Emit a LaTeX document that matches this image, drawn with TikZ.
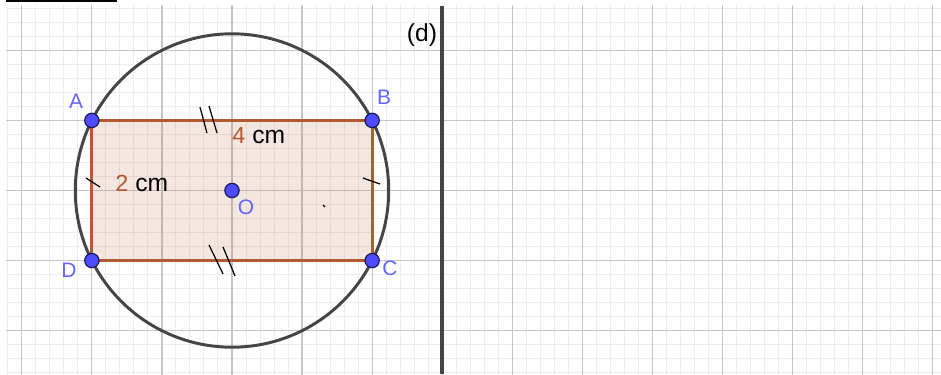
\documentclass[tikz,border=0pt]{standalone}
\usepackage{fontspec}
\setmainfont{Liberation Sans}
\usepackage{xcolor}
\usepackage{tikz}
\usetikzlibrary{calc}
\definecolor{ggbmajor}{HTML}{C6C6C6}
\definecolor{ggbminor}{HTML}{EDEDED}
\definecolor{ggbbrown}{HTML}{B45A30}
\definecolor{ggbblue}{HTML}{4D4DFF}
\definecolor{ggblabel}{HTML}{6464FF}
\definecolor{ggbdark}{HTML}{454545}

\begin{document}
\begin{tikzpicture}[font=\fontsize{8.5}{10}\selectfont,
    ptdot/.style={circle,fill=ggbblue,draw=ggbblue!35!black,line width=0.5pt,inner sep=0pt,minimum size=5.8pt},
    ptlabel/.style={text=ggblabel,inner sep=0pt},
    marktick/.style={black,line width=0.5pt},
    lenlabel/.style={anchor=west,inner sep=0pt,font=\fontsize{10}{12}\selectfont}]
        \useasboundingbox (-3.3105,-2.6185) rectangle (10.117,2.7183);
        % grid
        \begin{scope}
          \clip (-3.225,-2.6185) rectangle (10.117,2.633);
          \draw[ggbminor,line width=0.4pt,step=0.2] (-3.4,-2.8) grid (10.4,2.8);
          \draw[ggbmajor,line width=0.5pt,step=1] (-3.4,-2.8) grid (10.4,2.8);
        \end{scope}
        \fill[black] (-3.225,2.69) rectangle (-1.641,2.7183);
        % points
        \coordinate (A) at (-2,1);
        \coordinate (B) at (2,1);
        \coordinate (C) at (2,-1);
        \coordinate (D) at (-2,-1);
        \coordinate (O) at (0,0);
        % rectangle ABCD
        \fill[ggbbrown,opacity=0.15] (A) -- (B) -- (C) -- (D) -- cycle;
        \draw[ggbdark,line width=1.2pt] (O) circle (2.236);
        \draw[ggbbrown,line width=1.1pt] (A) -- (B) -- (C) -- (D) -- cycle;
        % line (d)
        \coordinate (dtop) at (3,2.633);
        \coordinate (dbot) at (3,-2.6185);
        \draw[ggbdark,line width=1.6pt] (dtop) -- (dbot);
        \node[inner sep=0pt,font=\fontsize{10}{12}\selectfont] (dname) at (2.71,2.22) {(d)};
        % marks
        \draw[marktick] (-0.457,1.191) -- (-0.357,0.82);
        \draw[marktick] (-0.328,1.206) -- (-0.214,0.82);
        \draw[marktick] (-0.328,-0.778) -- (-0.128,-1.191);
        \draw[marktick] (-0.128,-0.806) -- (0.043,-1.22);
        \draw[marktick] (-2.083,0.178) -- (-1.884,0.05);
        \draw[marktick] (1.869,0.178) -- (2.112,0.093);
        \draw[marktick] (1.299,-0.207) -- (1.327,-0.235);
        % lengths
        \node[lenlabel] (lenAB) at (0,0.78) {{\fontsize{9.5}{11}\selectfont\textcolor{ggbbrown}{4}} cm};
        \node[lenlabel] (lenAD) at (-1.67,0.107) {{\fontsize{9.5}{11}\selectfont\textcolor{ggbbrown}{2}} cm};
        % dots and names
        \foreach \p in {A,B,C,D,O} {
          \node[ptdot] (dot\p) at (\p) {};
        }
        \node[ptlabel] (nameA) at (-2.226,1.277) {A};
        \node[ptlabel] (nameB) at (2.169,1.334) {B};
        \node[ptlabel] (nameC) at (2.255,-1.106) {C};
        \node[ptlabel] (nameD) at (-2.326,-1.134) {D};
        \node[ptlabel] (nameO) at (0.2,-0.235) {O};
      \end{tikzpicture}
\end{document}
